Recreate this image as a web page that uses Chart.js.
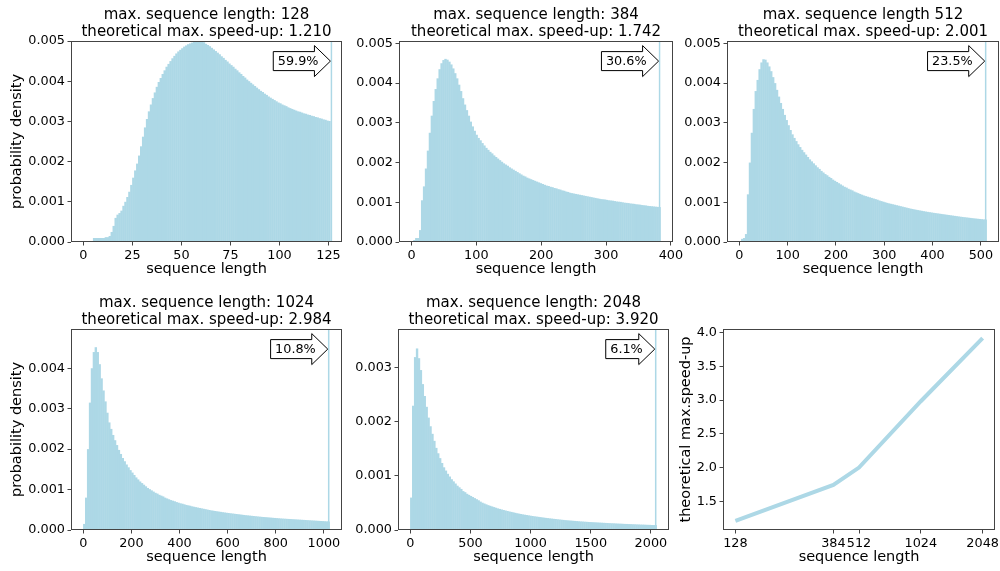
<!DOCTYPE html>
<html>
<head>
<meta charset="utf-8">
<title>sequence length histograms</title>
<script src="https://cdn.jsdelivr.net/npm/chart.js@4/dist/chart.umd.min.js"></script>
<style>
  html, body { margin: 0; background: #fff; overflow: hidden; }
  #wrap { position: relative; width: 1000px; height: 571px; overflow: hidden; }
  #wrap canvas { position: absolute; }
</style>
</head>
<body>
<div id="wrap"></div>
<script>
// ---- data ----
const maxLens = [128, 384, 512, 1024, 2048];
const speedUps = [1.210, 1.742, 2.001, 2.984, 3.920];
const truncShare = [59.9, 30.6, 23.5, 10.8, 6.1];   // % of samples sitting at max length
const titles = [
  ['max. sequence length: 128', 'theoretical max. speed-up: 1.210'],
  ['max. sequence length: 384', 'theoretical max. speed-up: 1.742'],
  ['max. sequence length 512', 'theoretical max. speed-up: 2.001'],
  ['max. sequence length: 1024', 'theoretical max. speed-up: 2.984'],
  ['max. sequence length: 2048', 'theoretical max. speed-up: 3.920']
];

// histogram bin widths and the narrow last bin holding the truncated samples
const binWidths = [1, 3, 4, 8, 16];
const spikeBins = [[126, 127], [381, 384], [508, 512], [1016, 1024], [2032, 2048]];

// probability density per bin, in units of 1e-5
const dens128 = [0, 0, 0, 0, 0, 10, 10, 10, 10, 10,
  10, 12, 12, 15, 25, 40, 60, 68, 72, 78,
  90, 100, 112, 125, 142, 160, 178, 195, 215, 238,
  262, 285, 306, 325, 342, 358, 372, 386, 398, 408,
  418, 427, 436, 443, 450, 457, 463, 469, 474, 478,
  482, 486, 489, 492, 494, 496, 498, 499, 500, 500,
  499, 497, 493, 490, 487, 483, 479, 475, 471, 467,
  462, 458, 453, 449, 444, 440, 436, 431, 427, 422,
  418, 413, 409, 404, 400, 396, 392, 388, 384, 380,
  376, 373, 369, 366, 362, 359, 356, 353, 350, 347,
  345, 342, 340, 338, 335, 333, 331, 329, 327, 325,
  324, 322, 320, 319, 317, 316, 314, 313, 311, 310,
  308, 307, 305, 304, 302, 301];
const dens384 = [0, 5, 10, 10, 30, 105, 140, 185, 230, 275,
  318, 355, 385, 412, 435, 450, 458, 461, 459, 454,
  447, 437, 425, 412, 396, 380, 362, 346, 332, 318,
  303, 291, 280, 270, 262, 256, 249, 243, 237, 232,
  227, 223, 218, 214, 210, 206, 202, 198, 195, 192,
  188, 185, 182, 179, 176, 173, 170, 167, 165, 162,
  160, 158, 156, 154, 152, 150, 148, 146, 144, 142,
  141, 139, 138, 136, 135, 133, 132, 130, 129, 127,
  126, 124, 123, 122, 121, 120, 119, 118, 117, 116,
  115, 114, 113, 112, 111, 110, 109, 108, 107.5, 107,
  106, 105, 104.5, 104, 103, 102, 101.5, 101, 100, 99,
  98.5, 98, 97, 96.5, 96, 95, 94.5, 94, 93, 92.5,
  92, 91, 90.5, 90, 89.5, 89, 88.5, 88];
const dens512 = [0, 8, 10, 20, 120, 200, 275, 335, 380, 408,
  435, 452, 460, 459, 452, 442, 430, 415, 400, 383,
  366, 350, 335, 320, 307, 294, 282, 271, 262, 254,
  246, 239, 232, 226, 220, 214, 208, 203, 198, 193,
  188, 184, 179, 175, 171, 168, 164, 161, 157, 154,
  151, 148, 145, 142, 139, 137, 134, 132, 130, 127,
  125, 123, 121, 119, 117, 115.5, 114, 112.5, 111, 109.5,
  108, 106.5, 104.5, 103, 101.5, 100, 98.5, 97.3, 96.1, 95,
  93.8, 92.6, 91.4, 90.2, 89, 87.8, 86.6, 85.4, 84.2, 83.2,
  82.2, 81.2, 80.3, 79.4, 78.5, 77.6, 76.7, 75.9, 75.1, 74.3,
  73.5, 72.8, 72.1, 71.4, 70.7, 70, 69.3, 68.6, 67.9, 67.2,
  66.5, 65.8, 65.1, 64.4, 63.7, 63.1, 62.5, 61.9, 61.3, 60.7,
  60.1, 59.5, 59, 58.5, 58, 57.5, 57, 56.5];
const dens1024 = [15, 80, 200, 315, 400, 440, 452, 440, 410, 375,
  345, 318, 290, 266, 250, 235, 222, 210, 198, 188,
  178, 170, 162, 155, 148, 142, 136, 130, 125, 120,
  116, 112, 108, 104, 101, 98, 95, 92, 90, 87,
  85, 83, 80, 78, 76, 74, 72.5, 71, 69, 67.5,
  66, 65, 63.5, 62, 61, 60, 58.5, 57.5, 56.5, 55.5,
  54.5, 53.5, 52.5, 51.5, 50.5, 49.5, 48.5, 47.8, 47, 46.2,
  45.5, 44.8, 44, 43.3, 42.6, 42, 41.4, 40.8, 40.2, 39.6,
  39, 38.4, 37.8, 37.2, 36.6, 36.1, 35.6, 35.1, 34.6, 34.1,
  33.6, 33.1, 32.6, 32.2, 31.8, 31.4, 31, 30.6, 30.2, 29.8,
  29.4, 29, 28.6, 28.3, 28, 27.7, 27.4, 27.1, 26.8, 26.5,
  26.2, 25.9, 25.6, 25.3, 25, 24.7, 24.4, 24.1, 23.8, 23.5,
  23.2, 22.9, 22.6, 22.3, 22, 21.7, 21.4, 21.1];
const dens2048 = [60, 230, 320, 336, 318, 296, 270, 248, 228, 208,
  192, 178, 165, 152, 142, 133, 124, 116, 110, 104,
  99, 94, 90, 86, 82, 79, 76, 72, 70, 67,
  65, 63, 61, 59, 57, 55, 52.5, 50.5, 49, 47.5,
  46, 44.8, 43.6, 42.4, 41.2, 40, 39, 38, 37, 36.1,
  35.2, 34.3, 33.5, 32.7, 31.8, 31, 30.3, 29.6, 28.9, 28.3,
  27.7, 27.1, 26.5, 25.9, 25.4, 24.9, 24.4, 23.9, 23.4, 22.9,
  22.4, 22, 21.5, 21.1, 20.7, 20.3, 19.9, 19.5, 19.1, 18.7,
  18.3, 18, 17.7, 17.4, 17.1, 16.8, 16.5, 16.2, 15.9, 15.7,
  15.4, 15.2, 14.9, 14.7, 14.5, 14.3, 14.1, 13.9, 13.7, 13.5,
  13.3, 13.1, 12.9, 12.7, 12.5, 12.4, 12.2, 12, 11.8, 11.7,
  11.5, 11.3, 11.2, 11, 10.9, 10.7, 10.6, 10.4, 10.3, 10.1,
  10, 9.9, 9.7, 9.6, 9.5, 9.3, 9.2, 9.1];
const densities = [dens128, dens384, dens512, dens1024, dens2048];

// tick values
const xTicks = [
  [0, 25, 50, 75, 100, 125],
  [0, 100, 200, 300, 400],
  [0, 100, 200, 300, 400, 500],
  [0, 200, 400, 600, 800, 1000],
  [0, 500, 1000, 1500, 2000]
];
const yTicks = [
  [0, 100, 200, 300, 400, 500],
  [0, 100, 200, 300, 400, 500],
  [0, 100, 200, 300, 400, 500],
  [0, 100, 200, 300, 400],
  [0, 100, 200, 300]
];
const speedTicks = [1.5, 2.0, 2.5, 3.0, 3.5, 4.0];

// ---- layout ----
const boxes = [
  {l: 71, t: 41, r: 342, b: 242},
  {l: 399, t: 41, r: 673, b: 242},
  {l: 727, t: 41, r: 999, b: 242},
  {l: 71, t: 329, r: 342, b: 530},
  {l: 398, t: 329, r: 669, b: 530},
  {l: 723, t: 329, r: 995, b: 530}
];
const xLims = [[-6.3, 131.9], [-19.2, 403.2], [-25.6, 537.6], [-51.2, 1075.2], [-102.4, 2150.4]];
const yMax = [500, 506, 506, 497, 372];

const PAD_L = 75, PAD_R = 45, PAD_T = 45, PAD_B = 48;
const BLUE = '#add8e6';
const INK = '#444';
const FONT = 'DejaVu Sans';

Chart.defaults.font.family = FONT;
Chart.defaults.color = '#000';

const wrap = document.getElementById('wrap');

function addCanvas(box) {
  const c = document.createElement('canvas');
  const w = box.r - box.l + PAD_L + PAD_R;
  const h = box.b - box.t + PAD_T + PAD_B;
  c.width = w; c.height = h;
  c.style.width = w + 'px'; c.style.height = h + 'px';
  c.style.left = (box.l - PAD_L) + 'px';
  c.style.top = (box.t - PAD_T) + 'px';
  wrap.appendChild(c);
  return c;
}

// frame, two-line title and the "x% at max length" arrow box
const decorPlugin = {
  id: 'decor',
  afterDatasetsDraw(chart, args, opts) {
    const {ctx, chartArea: a} = chart;
    ctx.save();
    ctx.strokeStyle = INK;
    ctx.lineWidth = 1;
    ctx.strokeRect(a.left + 0.5, a.top + 0.5, a.right - a.left - 1, a.bottom - a.top - 1);

    if (opts.title) {
      ctx.fillStyle = '#000';
      ctx.font = '15px "' + FONT + '"';
      ctx.textAlign = 'center';
      ctx.textBaseline = 'alphabetic';
      const cx = (a.left + a.right) / 2;
      ctx.fillText(opts.title[0], cx, a.top - 22.5);
      ctx.fillText(opts.title[1], cx, a.top - 5.5);
    }

    if (opts.arrow) {
      const tx = chart.scales.x.getPixelForValue(opts.arrow.x);
      const ty = chart.scales.y.getPixelForValue(opts.arrow.y);
      ctx.font = '12.8px "' + FONT + '"';
      const tw = ctx.measureText(opts.arrow.text).width;
      const headX = tx - 16;
      const textLeft = headX + 4 - tw;
      const bodyLeft = textLeft - 4.5;
      const bh = 9.5, hh = 15.5;
      ctx.beginPath();
      ctx.moveTo(bodyLeft, ty - bh);
      ctx.lineTo(headX, ty - bh);
      ctx.lineTo(headX, ty - hh);
      ctx.lineTo(tx, ty);
      ctx.lineTo(headX, ty + hh);
      ctx.lineTo(headX, ty + bh);
      ctx.lineTo(bodyLeft, ty + bh);
      ctx.closePath();
      ctx.fillStyle = '#fff';
      ctx.fill();
      ctx.strokeStyle = '#000';
      ctx.stroke();
      ctx.fillStyle = '#000';
      ctx.textAlign = 'left';
      ctx.textBaseline = 'middle';
      ctx.fillText(opts.arrow.text, textLeft, ty + 0.5);
    }
    ctx.restore();
  }
};

function axis(extra) {
  return Object.assign({
    border: {display: false},
    grid: {display: true, offset: false, drawOnChartArea: false, drawTicks: true, tickLength: 3.5, tickWidth: 1, tickColor: INK},
    ticks: {font: {size: 12.8}, color: '#000', padding: 2.5, autoSkip: false, maxRotation: 0, minRotation: 0}
  }, extra);
}

function xTitle(text) {
  return {display: true, text, color: '#000', font: {size: 14.5, lineHeight: 1.2}, padding: {top: 0, bottom: 12}};
}
function yTitle(text, pad) {
  return {display: true, text, color: '#000', font: {size: 14.5, lineHeight: 1.2}, padding: {top: pad, bottom: 0}};
}

function makeHist(i) {
  const w = binWidths[i];
  const d = densities[i];
  const bars = d.map((v, k) => ({x: (k + 0.5) * w, y: v}));
  const [s0, s1] = spikeBins[i];
  const spikeH = truncShare[i] / 100 / (s1 - s0) * 1e5;
  const ticksX = xTicks[i], ticksY = yTicks[i];

  new Chart(addCanvas(boxes[i]), {
    type: 'bar',
    data: {
      datasets: [
        // bars slightly wider than a bin so neighbours overlap: no antialias seams
        {type: 'bar', data: bars, backgroundColor: BLUE, borderWidth: 0,
         barPercentage: 1, categoryPercentage: 1.25},
        {type: 'line', data: [{x: s0, y: spikeH}, {x: s1, y: spikeH}], stepped: 'after', fill: 'origin',
         backgroundColor: BLUE, borderColor: 'rgba(0,0,0,0)', borderWidth: 0, pointRadius: 0}
      ]
    },
    options: {
      responsive: false, animation: false, devicePixelRatio: 1,
      layout: {padding: {left: 0, right: PAD_R, top: PAD_T, bottom: 0}},
      plugins: {
        legend: {display: false}, tooltip: {enabled: false},
        decor: {title: titles[i], arrow: {x: s0, y: yMax[i] * 0.9, text: truncShare[i].toFixed(1) + '%'}}
      },
      scales: {
        x: axis({
          type: 'linear', offset: false, min: xLims[i][0], max: xLims[i][1], bounds: 'data',
          afterBuildTicks: s => { s.ticks = ticksX.map(v => ({value: v})); },
          afterFit: s => { s.height = PAD_B; },
          title: xTitle('sequence length'),
          ticks: Object.assign(axis({}).ticks, {callback: v => String(v)})
        }),
        y: axis({
          type: 'linear', min: 0, max: yMax[i], bounds: 'data',
          afterBuildTicks: s => { s.ticks = ticksY.map(v => ({value: v})); },
          afterFit: s => { s.width = PAD_L; },
          title: (i === 0 || i === 3) ? yTitle('probability density', 12.3) : {display: false},
          ticks: Object.assign(axis({}).ticks, {callback: v => (v / 1e5).toFixed(3)})
        })
      }
    },
    plugins: [decorPlugin]
  });
}

for (let i = 0; i < 5; i++) makeHist(i);

// speed-up vs max length
new Chart(addCanvas(boxes[5]), {
  type: 'line',
  data: {
    datasets: [{
      data: maxLens.map((L, k) => ({x: L, y: speedUps[k]})),
      borderColor: BLUE, borderWidth: 4, pointRadius: 0, fill: false, tension: 0
    }]
  },
  options: {
    responsive: false, animation: false, devicePixelRatio: 1,
    layout: {padding: {left: 0, right: PAD_R, top: PAD_T, bottom: 0}},
    plugins: {legend: {display: false}, tooltip: {enabled: false}, decor: {}},
    scales: {
      x: axis({
        type: 'logarithmic', min: 111.4, max: 2352.5, bounds: 'data',
        afterBuildTicks: s => { s.ticks = maxLens.map(v => ({value: v})); },
        afterFit: s => { s.height = PAD_B; },
        title: xTitle('sequence length'),
        ticks: Object.assign(axis({}).ticks, {callback: v => String(v)})
      }),
      y: axis({
        type: 'linear', min: 1.0745, max: 4.0555, bounds: 'data',
        afterBuildTicks: s => { s.ticks = speedTicks.map(v => ({value: v})); },
        afterFit: s => { s.width = PAD_L; },
        title: yTitle('theoretical max.speed-up', 30),
        ticks: Object.assign(axis({}).ticks, {callback: v => v.toFixed(1)})
      })
    }
  },
  plugins: [decorPlugin]
});
</script>
</body>
</html>
